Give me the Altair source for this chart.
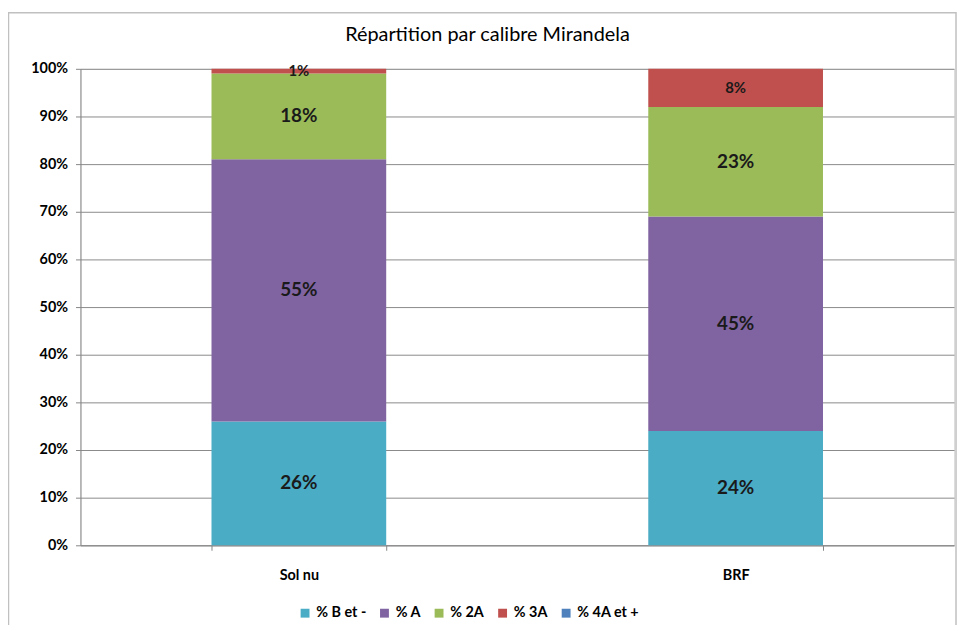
import altair as alt
import pandas as pd

categories = ["Sol nu", "BRF"]
series = ["% B et -", "% A", "% 2A", "% 3A", "% 4A et +"]
colors = ["#4BACC6", "#8064A2", "#9BBB59", "#C0504D", "#4F81BD"]
sol_nu = [0.26, 0.55, 0.18, 0.01, 0.0]
brf = [0.24, 0.45, 0.23, 0.08, 0.0]
title_text = "Répartition par calibre Mirandela"

rows = []
for cat, vals in zip(categories, [sol_nu, brf]):
    for i, (s, v) in enumerate(zip(series, vals)):
        rows.append({"cat": cat, "serie": s, "value": v, "order": i,
                     "label": f"{round(v * 100)}%", "small": i >= 3})
df = pd.DataFrame(rows)

FONT = "Lato"

base = alt.Chart(df)

bars = base.mark_bar().encode(
    x=alt.X("cat:N", sort=categories, title=None,
            scale=alt.Scale(paddingInner=0.6, paddingOuter=0.3),
            axis=alt.Axis(labelAngle=0, labelFont=FONT, labelFontSize=14.5, labelFontWeight="bold",
                          labelColor="#000000", tickBand="extent", tickColor="#868686", tickSize=5,
                          domainColor="#868686", labelPadding=18)),
    y=alt.Y("value:Q", stack="zero", title=None,
            scale=alt.Scale(domain=[0, 1], nice=False),
            axis=alt.Axis(values=[i / 10 for i in range(11)], format=".0%", labelFont=FONT,
                          labelFontSize=14.5, labelFontWeight="bold", labelColor="#000000",
                          tickColor="#868686", tickSize=5, domainColor="#868686",
                          gridColor="#8a8a8a", grid=True, labelPadding=8)),
    color=alt.Color("serie:N", scale=alt.Scale(domain=series, range=colors),
                    legend=alt.Legend(title=None, orient="none", direction="horizontal",
                                      legendX=219, legendY=541, labelFont=FONT, labelFontSize=14.5,
                                      labelFontWeight="bold", labelColor="#000000",
                                      symbolType="square", symbolSize=80, symbolStrokeWidth=0,
                                      columnPadding=11, labelOffset=4)),
    order=alt.Order("order:Q", sort="ascending"),
)

labels = base.transform_filter("datum.value > 0").transform_stack(
    stack="value", groupby=["cat"], sort=[alt.SortField("order", order="ascending")], as_=["y0", "y1"]
).transform_calculate(mid="(datum.y0 + datum.y1) / 2").mark_text(
    font=FONT, fontWeight="bold", color="#1a1a1a", baseline="middle"
).encode(
    x=alt.X("cat:N", sort=categories),
    y=alt.Y("mid:Q"),
    text="label:N",
    size=alt.Size("small:N", scale=alt.Scale(domain=[False, True], range=[19, 15]), legend=None),
)

title = alt.Chart(pd.DataFrame({"t": [title_text]})).mark_text(
    font=FONT, fontSize=20, color="#000000", align="center", baseline="middle"
).encode(x=alt.value(410), y=alt.value(-34), text="t:N")

frame = alt.Chart(pd.DataFrame({"t": [0]})).mark_rect(
    fill=None, stroke="#c0c0c0", strokeWidth=1.5
).encode(x=alt.value(-72.5), x2=alt.value(882), y=alt.value(-56.5), y2=alt.value(562))

chart = alt.layer(frame, bars, labels, title).properties(
    width=880, height=480,
    padding={"left": 73, "top": 59, "right": 3, "bottom": 78},
    autosize=alt.AutoSizeParams(type="none"),
).configure_view(stroke=None).configure(background="#ffffff")

chart.save("out.html", embed_options={"renderer": "svg", "actions": False})
